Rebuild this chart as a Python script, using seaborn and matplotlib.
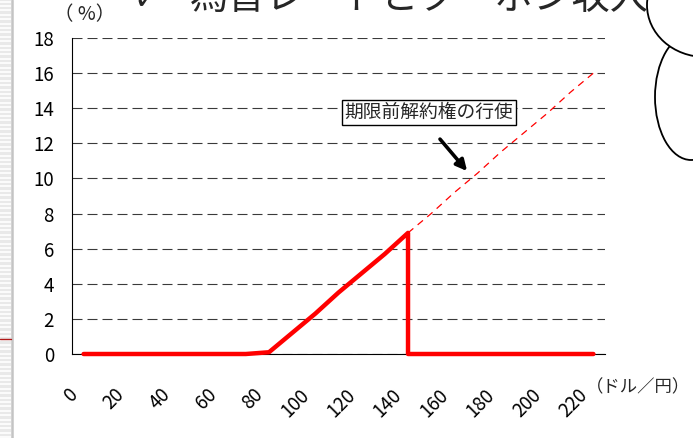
import numpy as np
import pandas as pd
import matplotlib
matplotlib.use("Agg")
import matplotlib.pyplot as plt
import seaborn as sns
from matplotlib.patches import Ellipse, Rectangle
from matplotlib.lines import Line2D
from matplotlib.transforms import ScaledTranslation

# ---------------- data ----------------
rates_pre = [0, 10, 20, 30, 40, 50, 60, 70, 80, 90, 100, 110, 120, 130, 140]
coupon_pre = [0, 0, 0, 0, 0, 0, 0, 0, 0.1, 1.2, 2.3, 3.5, 4.6, 5.7, 6.9]
rates_post = [140, 150, 160, 170, 180, 190, 200, 210, 220]
coupon_post = [0, 0, 0, 0, 0, 0, 0, 0, 0]
coupon_nocall = [6.9, 8.0, 9.2, 10.3, 11.5, 12.6, 13.7, 14.9, 16.0]
xtick_labels = [0, 20, 40, 60, 80, 100, 120, 140, 160, 180, 200, 220]
yticks = [0, 2, 4, 6, 8, 10, 12, 14, 16, 18]
title = "為替レートとクーポン収入"
callout = "期限前解約権の行使"

# ---------------- style ----------------
sns.set_style("white")
plt.rcParams["font.family"] = ["Noto Sans CJK JP", "DejaVu Sans"]
plt.rcParams["lines.scale_dashes"] = False

W, H = 693, 438
fig = plt.figure(figsize=(W / 100, H / 100), dpi=100)
ax = fig.add_axes([72 / W, 84 / H, 533 / W, 316 / H])

solid = pd.DataFrame({"rate": rates_pre + rates_post,
                      "coupon": coupon_pre + coupon_post})
nocall = pd.DataFrame({"rate": rates_post, "coupon": coupon_nocall})

sns.lineplot(data=nocall, x="rate", y="coupon", ax=ax, color="#ff0000",
             lw=0.9, linestyle=(0, (5, 4)), zorder=3,
             estimator=None, errorbar=None)
sns.lineplot(data=solid, x="rate", y="coupon", ax=ax, color="#ff0000",
             lw=3.2, sort=False, zorder=4, clip_on=False,
             estimator=None, errorbar=None,
             solid_capstyle="round", solid_joinstyle="round")

ax.set_xlim(-5, 225)
ax.set_ylim(0, 18)
ax.set_xlabel("")
ax.set_ylabel("")

for s in ["top", "right"]:
    ax.spines[s].set_visible(False)
for s in ["left", "bottom"]:
    ax.spines[s].set_color("black")
    ax.spines[s].set_linewidth(0.8)

ax.set_yticks(yticks)
ax.set_yticklabels([str(v) for v in yticks])
ax.tick_params(axis="y", direction="in", length=6, width=0.8,
               color="black", labelsize=13.5, pad=13, labelcolor="black")
ax.yaxis.grid(True, color="#3a3a3a", lw=0.8, linestyle=(0, (7.2, 3.6)))
ax.set_axisbelow(True)

ax.set_xticks(xtick_labels)
ax.set_xticklabels([str(v) for v in xtick_labels])
ax.set_xticks(np.arange(-5, 226, 10), minor=True)
ax.tick_params(axis="x", which="major", length=0, labelsize=13.5, pad=26,
               labelcolor="black")
ax.tick_params(axis="x", which="minor", direction="in", length=5.5,
               width=0.8, color="black")
for lab in ax.get_xticklabels():
    lab.set_rotation(45)
    lab.set_ha("right")
    lab.set_va("center_baseline")
    lab.set_rotation_mode("anchor")
    lab.set_transform(lab.get_transform() +
                      ScaledTranslation(-11 / 100, 0, fig.dpi_scale_trans))

# unit labels
fig.text(85 / W, (H - 15) / H, "（ %）", ha="center", va="center", fontsize=14)
fig.text(638 / W, (H - 387) / H, "（ドル／円）", ha="center", va="center",
         fontsize=12.5)

# callout box and arrow
ax.text(149.1, 13.75, callout, ha="center", va="center", fontsize=13.5,
        bbox=dict(boxstyle="square,pad=0.12", fc="white", ec="black", lw=1),
        zorder=6)
ax.annotate("", xy=(165.5, 10.42), xytext=(153.8, 12.24),
            arrowprops=dict(arrowstyle="-|>", lw=2.6, color="black",
                            mutation_scale=16, shrinkA=0, shrinkB=0),
            zorder=6)

# decorative slide elements
fig.add_artist(Rectangle((0, 0), 11 / W, 1, transform=fig.transFigure,
                         fc="#e9e9e9", ec="none", zorder=0))
for yy in np.arange(1.5, H, 4.4):
    fig.add_artist(Line2D([0, 11 / W], [1 - yy / H] * 2,
                          transform=fig.transFigure, color="white", lw=1.2,
                          zorder=0.5))
fig.add_artist(Line2D([12 / W] * 2, [0, 1], transform=fig.transFigure,
                      color="#c4c4c4", lw=1.8, zorder=1))
fig.add_artist(Line2D([0, 11 / W], [1 - 339 / H] * 2,
                      transform=fig.transFigure, color="#b01818", lw=1,
                      zorder=1))

e2 = Ellipse((691 / W, 1 - 97 / H), 72 / W, 126 / H, transform=fig.transFigure,
             fc="white", ec="black", lw=1.3, zorder=2)
e1 = Ellipse((705 / W, 1 - 5 / H), 116 / W, 104 / H, transform=fig.transFigure,
             fc="white", ec="black", lw=1.3, zorder=2.5)
fig.add_artist(e2)
fig.add_artist(e1)

fig.text(133 / W, 1 - 9 / H, "✓", ha="left", va="baseline", fontsize=22,
         fontweight="bold", family=["DejaVu Sans"], zorder=5)
fig.text(190 / W, 1 - 9 / H, title, ha="left", va="baseline", fontsize=27.5,
         zorder=5)

fig.savefig("out.png", dpi=100)
